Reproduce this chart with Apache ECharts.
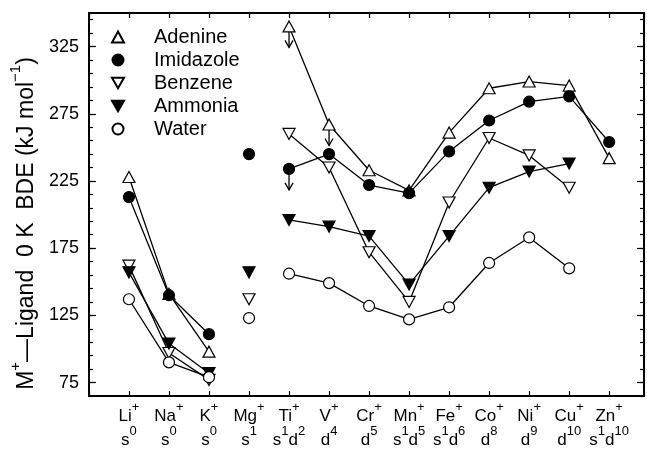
<!DOCTYPE html>
<html>
<head>
<meta charset="utf-8">
<script src="https://cdn.jsdelivr.net/npm/echarts@6/dist/echarts.min.js"></script>
<style>
  html, body { margin: 0; padding: 0; background: #fff; }
  #chart { width: 647px; height: 449px; }
</style>
</head>
<body>
<div id="chart"></div>
<script>
// metal ions along x (1..13) and their ground-state configs
const metals = ['Li', 'Na', 'K', 'Mg', 'Ti', 'V', 'Cr', 'Mn', 'Fe', 'Co', 'Ni', 'Cu', 'Zn'];
const configs = ['s0', 's0', 's0', 's1', 's1d2', 'd4', 'd5', 's1d5', 's1d6', 'd8', 'd9', 'd10', 's1d10'];

// M+ - ligand 0 K BDE in kJ/mol, null = no value
const adenine   = [228, 141, 98, null, 340, 267, 233, 218, 261, 294, 299, 296, 242];
const imidazole = [213, 140, 111, 245, 234, 245, 222, 216, 247, 270, 284, 288, 254];
const benzene   = [162, 97, 77, 137, 260, 235, 172, 135, 209, 257, 244, 220, null];
const ammonia   = [157, 104, 82, 157, 196, 191, 184, 148, 184, 220, 232, 238, null];
const water     = [137, 90, 79, 123, 156, 149, 132, 122, 131, 164, 183, 160, null];

// these values are upper limits (down arrow)
const upperLimits = [['Adenine', 'Ti'], ['Adenine', 'V'], ['Imidazole', 'Ti']];

const yLabels = [75, 125, 175, 225, 275, 325];

const FONT = "'Liberation Sans', Arial, sans-serif";
const DOWN_TRI = 'path://M0,0L10,0L5,8.66Z';

const ligands = [
  { name: 'Adenine', data: adenine, symbol: 'triangle', fill: '#fff' },
  { name: 'Imidazole', data: imidazole, symbol: 'circle', fill: '#000' },
  { name: 'Benzene', data: benzene, symbol: DOWN_TRI, fill: '#fff' },
  { name: 'Ammonia', data: ammonia, symbol: DOWN_TRI, fill: '#000' },
  { name: 'Water', data: water, symbol: 'circle', fill: '#fff' },
];

const mgIdx = metals.indexOf('Mg');

// Mg stands alone: break the line on both sides of it
function lineData(vals) {
  const out = [];
  vals.forEach((v, i) => {
    if (v == null) return;
    if (i === mgIdx || i === mgIdx + 1) out.push([i + 0.5, '-']);
    out.push([i + 1, v]);
  });
  return out;
}

function xLabel(v) {
  if (!Number.isInteger(v) || v < 1 || v > metals.length) return '';
  const i = v - 1;
  const cfg = configs[i].replace(/([a-z])(\d+)/g, '{n|$1}{p|$2}');
  return '{n|' + metals[i] + '}{q|+}\n' + cfg;
}

const byName = {};
ligands.forEach((l) => (byName[l.name] = l.data));

const series = ligands.map((l) => ({
  name: l.name,
  type: 'line',
  data: lineData(l.data),
  symbol: l.symbol,
  symbolSize: l.symbol === 'circle' ? 11 : [12, 11],
  showAllSymbol: true,
  connectNulls: false,
  itemStyle: { color: l.fill, borderColor: '#000', borderWidth: 1.2 },
  lineStyle: { color: '#000', width: 1.3 },
  z: 3,
}));

series.push({
  type: 'custom',
  z: 2,
  data: upperLimits.map(([lig, m]) => {
    const i = metals.indexOf(m);
    return [i + 1, byName[lig][i]];
  }),
  renderItem(params, api) {
    const p = api.coord([api.value(0), api.value(1)]);
    const tip = p[1] + 21;
    return {
      type: 'group',
      children: [
        { type: 'line', shape: { x1: p[0], y1: p[1], x2: p[0], y2: tip }, style: { stroke: '#000', lineWidth: 1.3 } },
        {
          type: 'polyline',
          shape: { points: [[p[0] - 4, tip - 7], [p[0], tip], [p[0] + 4, tip - 7]] },
          style: { stroke: '#000', fill: null, lineWidth: 1.3 },
        },
      ],
    };
  },
});

const frameLine = { show: true, onZero: false, lineStyle: { color: '#000', width: 2 } };
const tickStyle = { color: '#000', width: 1.2 };

const chart = echarts.init(document.getElementById('chart'));
chart.setOption({
  animation: false,
  textStyle: { fontFamily: FONT },
  grid: { left: 87, right: 1, top: 13, bottom: 48 },
  legend: {
    orient: 'vertical',
    left: 111,
    top: 27,
    padding: 0,
    itemGap: 3,
    itemWidth: 12,
    itemHeight: 11,
    textStyle: { fontSize: 20, lineHeight: 20, color: '#000', fontFamily: FONT, padding: [0, 0, 0, 25] },
    data: ligands.map((l) => ({ name: l.name, icon: l.symbol })),
  },
  xAxis: [
    {
      type: 'value', min: 0, max: 13.87, interval: 1, position: 'bottom',
      axisLine: frameLine,
      axisTick: { inside: true, length: 5, lineStyle: tickStyle },
      splitLine: { show: false },
      axisLabel: {
        margin: 5, color: '#000', formatter: xLabel,
        rich: {
          n: { fontSize: 17, lineHeight: 24, verticalAlign: 'bottom', color: '#000', fontFamily: FONT },
          q: { fontSize: 13, lineHeight: 8, verticalAlign: 'top', color: '#000', fontFamily: FONT },
          p: { fontSize: 13, lineHeight: 14, verticalAlign: 'top', color: '#000', fontFamily: FONT },
        },
      },
    },
    {
      type: 'value', min: 0, max: 13.87, interval: 1, position: 'top',
      axisLine: frameLine,
      axisTick: { inside: true, length: 5, lineStyle: tickStyle },
      splitLine: { show: false },
      axisLabel: { show: false },
    },
  ],
  yAxis: [
    {
      type: 'value', min: 65, max: 350, position: 'left',
      axisLine: frameLine,
      axisTick: { inside: true, length: 7, lineStyle: tickStyle, customValues: yLabels },
      axisLabel: { customValues: yLabels, margin: 10, fontSize: 18, color: '#000' },
      splitLine: { show: false },
      name: '{n|M}{p|+}{n|—Ligand  0 K  BDE (kJ mol}{p|−1}{n|)}',
      nameLocation: 'middle',
      nameGap: 41,
      nameRotate: 90,
      nameTextStyle: {
        padding: [0, 38, 0, 0],
        rich: {
          n: { fontSize: 23, lineHeight: 30, verticalAlign: 'bottom', color: '#000', fontFamily: FONT },
          p: { fontSize: 15, lineHeight: 12, verticalAlign: 'top', color: '#000', fontFamily: FONT },
        },
      },
    },
    {
      type: 'value', min: 65, max: 350, interval: 10, position: 'left',
      axisLine: { show: false, onZero: false },
      axisTick: { inside: true, length: 4, lineStyle: tickStyle },
      axisLabel: { show: false },
      splitLine: { show: false },
    },
    {
      type: 'value', min: 65, max: 350, position: 'right',
      axisLine: frameLine,
      axisTick: { inside: true, length: 7, lineStyle: tickStyle, customValues: yLabels },
      axisLabel: { show: false },
      splitLine: { show: false },
    },
    {
      type: 'value', min: 65, max: 350, interval: 10, position: 'right',
      axisLine: { show: false, onZero: false },
      axisTick: { inside: true, length: 4, lineStyle: tickStyle },
      axisLabel: { show: false },
      splitLine: { show: false },
    },
  ],
  series,
});
</script>
</body>
</html>
